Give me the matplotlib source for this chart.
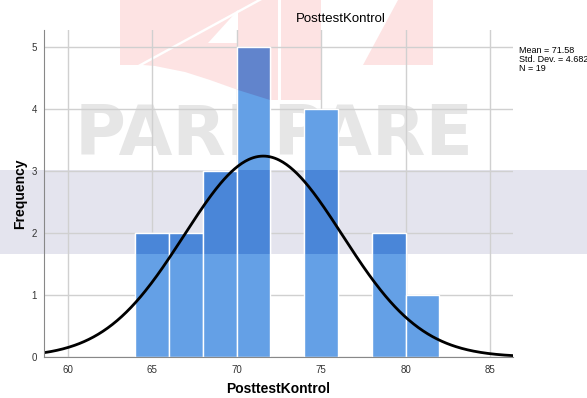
import numpy as np
import matplotlib
matplotlib.use('Agg')
import matplotlib.pyplot as plt
from matplotlib.patches import Rectangle, Polygon

# histogram data
bin_left = [64, 66, 68, 70, 74, 78, 80]
counts = [2, 2, 3, 5, 4, 2, 1]
bin_width = 2
mean = 71.58
std_dev = 4.682
n = 19

x_ticks = [60, 65, 70, 75, 80, 85]
y_ticks = [0, 1, 2, 3, 4, 5]

W, H = 587, 398
plt.rcParams['font.family'] = ['Liberation Sans', 'DejaVu Sans']


def fx(px):
    return px / W


def fy(py):
    return 1 - py / H


def fig_poly(pts, color, z):
    p = Polygon([(fx(a), fy(b)) for a, b in pts], closed=True, transform=fig.transFigure,
                facecolor=color, edgecolor='none', zorder=z)
    fig.patches.append(p)
    return p


fig = plt.figure(figsize=(W / 100, H / 100), dpi=100)
fig.patch.set_facecolor('white')

# watermark behind the chart (logo shapes, gray band, text)
band = Rectangle((0, fy(254)), 1, fy(170) - fy(254), transform=fig.transFigure,
                 facecolor='#e4e4ee', edgecolor='none', zorder=-3)
fig.patches.append(band)
pink = '#fde3e3'
fig_poly([(120, 0), (257, 0), (138, 65), (120, 65)], pink, -3)
wedge = fig_poly([(262, 0), (278, 0), (278, 100), (270, 100), (238, 90), (210, 80),
                  (185, 72), (155, 66), (143, 65)], pink, -3)
fig_poly([(208, 43), (238, 10), (238, 43)], 'white', -2.9)
fig_poly([(281, 0), (321, 0), (321, 100), (281, 100)], pink, -3)
fig_poly([(398, 0), (433, 0), (433, 65), (363, 65)], pink, -3)
fig.text(fx(274), fy(136), 'PAREPARE', fontsize=50, fontweight='bold', color='#e6e6e6',
         family='DejaVu Sans', ha='center', va='center', zorder=-2)

ax = fig.add_axes([fx(44), fy(357), fx(513) - fx(44), fy(30) - fy(357)])
ax.patch.set_alpha(0)

ax.bar(bin_left, counts, width=bin_width, align='edge', color='#64a0e6',
       edgecolor='white', linewidth=1, zorder=2)
dark = ax.bar(bin_left, counts, width=bin_width, align='edge', color='#4a86d8',
              edgecolor='white', linewidth=1, zorder=2.1)
for b in dark:
    b.set_clip_path(band)
purple = ax.bar(bin_left, counts, width=bin_width, align='edge', color='#6184cc',
                edgecolor='white', linewidth=1, zorder=2.1)
for b in purple:
    b.set_clip_path(wedge)

# normal curve
xs = np.linspace(58.6, 86.4, 400)
ys = n * bin_width * np.exp(-0.5 * ((xs - mean) / std_dev) ** 2) / (std_dev * np.sqrt(2 * np.pi))
ax.plot(xs, ys, color='black', linewidth=2, zorder=3)

ax.set_xlim(58.6, 86.36)
ax.set_ylim(0, 5.27)
ax.set_xticks(x_ticks)
ax.set_yticks(y_ticks)
ax.grid(True, color='#d0d0d0', linewidth=1)
ax.set_axisbelow(True)
ax.tick_params(length=0, labelsize=7, labelcolor='#333333')
ax.tick_params(axis='x', pad=6)
ax.tick_params(axis='y', pad=5)
for s in ['top', 'right']:
    ax.spines[s].set_visible(False)
for s in ['left', 'bottom']:
    ax.spines[s].set_color('#888888')
    ax.spines[s].set_zorder(4)

ax.set_xlabel('PosttestKontrol', fontsize=10, fontweight='bold', labelpad=5)
ax.set_ylabel('Frequency', fontsize=10, fontweight='bold', labelpad=3)

fig.text(fx(341), fy(19), 'PosttestKontrol', fontsize=9.5, ha='center', va='center')
fig.text(fx(519), fy(46), 'Mean = %.2f\nStd. Dev. = %.3f\nN = %d' % (mean, std_dev, n),
         fontsize=6.5, ha='left', va='top', linespacing=1.0)

fig.savefig('out.png', dpi=100)
